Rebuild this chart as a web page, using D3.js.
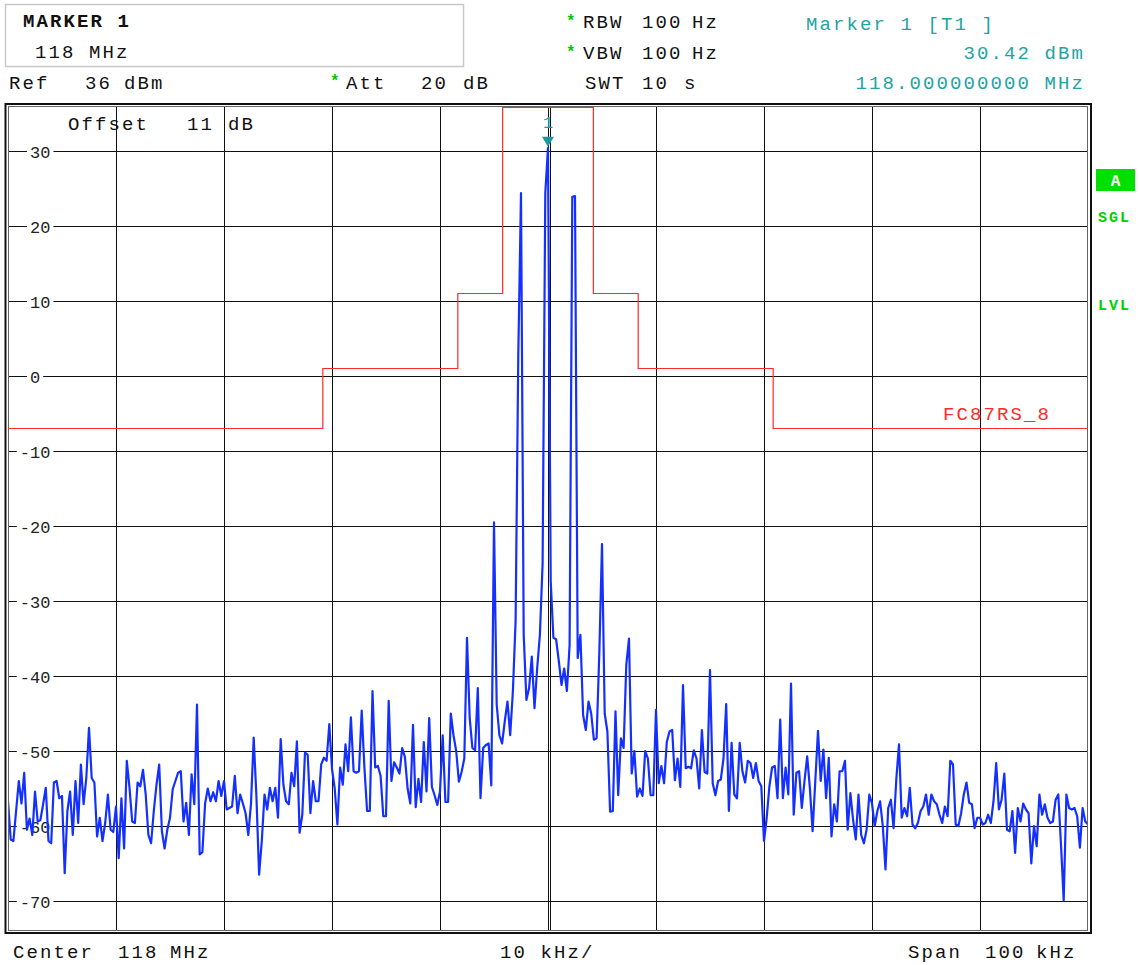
<!DOCTYPE html>
<html>
<head>
<meta charset="utf-8">
<script src="https://cdn.jsdelivr.net/npm/d3@7"></script>
<style>
html, body { margin: 0; padding: 0; background: #fff; }
svg text { font-family: 'Liberation Mono', 'Courier New', 'DejaVu Sans Mono', monospace; }
</style>
</head>
<body>
<script>
// spectrum trace, one value per 0.25 kHz from -50 kHz to +50 kHz (dBm)
var F_START = -50, F_STEP = 0.25;
var TRACE = [
  -56.7, -61.8, -62, -58, -54, -57, -52.9, -60.5, -59, -61.2, -55.4, -59.4, -59.2, -57.1, -54.9, -62, -62.3, -54.2, -54, -56.3,
  -56, -66.3, -58, -55.4, -61.2, -54, -59.6, -51.8, -57.1, -53.6, -46.9, -53.6, -54.2, -61.4, -58.9, -62, -59.6, -55.8, -60.5, -60.8,
  -57.4, -64.3, -56.3, -63, -51.3, -54.9, -59.4, -59.6, -54.2, -54.7, -52.5, -55.8, -61.2, -62.3, -58, -54.5, -51.8, -60.7, -63, -60.5,
  -58.9, -55.1, -54, -52.9, -52.7, -59.4, -56.9, -61.2, -53.1, -57.1, -43.8, -63.8, -63.5, -57, -55, -56.7, -55.5, -56.7, -54, -56,
  -54, -57.8, -57.6, -57.4, -53.3, -58.3, -55.8, -57, -58.3, -61.2, -57, -48.2, -56, -66.5, -62, -55.8, -57.8, -54.9, -56.7, -54.9,
  -58.9, -48.4, -54.5, -56.7, -57.1, -52.9, -54.7, -48.7, -60.9, -58.5, -50.2, -50.5, -58.3, -54, -56.7, -56.7, -51.8, -50.9, -51.3, -46.4,
  -52.4, -55, -59.8, -52.2, -54.5, -49.1, -52.7, -45.5, -52.7, -52.9, -52.7, -44.6, -52.2, -58, -58, -42, -52.2, -52, -53.3, -58.7,
  -58.7, -43.3, -54, -51.5, -52.2, -53, -49.6, -50.8, -55, -57, -46.5, -57.5, -53.7, -56.8, -48.8, -55.4, -45.6, -54.8, -55.9, -57.2,
  -55.4, -47.9, -56.8, -56.8, -45, -47.9, -50, -54.1, -52.8, -51, -34.9, -45.6, -49.6, -49.9, -41.6, -56.3, -49.6, -49.2, -49, -54.6,
  -19.5, -43.8, -47.9, -49, -46, -43.4, -47.9, -42, -32.7, 3, 24.4, -34.5, -43.2, -41.6, -37.4, -44.3, -38.9, -34.5, -25, 24.4,
  30.42, -27.3, -34.9, -35.1, -38, -41.2, -39, -42, -35.9, 23.9, 24, -37.6, -34.5, -45.2, -47.2, -43.4, -45, -48.5, -48.3, -37,
  -22.4, -45, -47.4, -58.1, -58, -44.7, -55.9, -48.3, -49.6, -38.5, -35, -53, -50, -56.1, -55, -56, -50, -51, -55.9, -55.9,
  -44.5, -54.3, -52, -54.3, -48.8, -47.4, -47.2, -53.9, -51, -54.8, -41.2, -52.3, -52.1, -52.3, -49.9, -51, -55, -47.2, -52.8, -53,
  -39.2, -54.3, -55.9, -54, -53.8, -51, -43.75, -58, -48.9, -55.8, -56.3, -48.9, -52.7, -54.2, -51.3, -51.6, -53.6, -51.6, -54, -54.7,
  -62, -58.9, -54.7, -52.2, -52, -56.3, -45.8, -56.3, -52.2, -55.8, -41, -58.5, -52.9, -52.7, -57.6, -54, -50.7, -55, -60.7, -54,
  -47.3, -54, -49.8, -56.3, -50.9, -61.4, -57.1, -59.4, -52.7, -52.7, -51.3, -60.5, -55.6, -59.2, -61.8, -55.8, -61.2, -62.3, -60.5, -55.8,
  -57, -60, -58, -56.7, -60, -65.8, -57.6, -56.5, -60.3, -53.8, -49.1, -58.9, -57.6, -58.7, -54.9, -59.8, -60.3, -59.6, -58, -57.4,
  -55.8, -58.5, -55.8, -56.7, -57.1, -58.5, -59.6, -57.4, -58.7, -51.3, -51.8, -59.8, -60, -58.3, -55.8, -54.2, -56.9, -57.1, -60.3, -58.9,
  -58.9, -59.8, -59.6, -58.5, -59.6, -56.7, -51.6, -57.8, -56.5, -53, -60.5, -60.7, -58, -63.6, -57.6, -59.4, -57, -57.8, -58.3, -65,
  -60, -62.7, -55.8, -58.5, -57.1, -58.9, -59.6, -59.4, -56.5, -55.8, -62.5, -69.9, -55.8, -57.6, -57.8, -57.6, -58.7, -62.9, -57.6, -59.4, -59.8
];

// limit line FC87RS_8: frequency edges (kHz) and the level between them (dBm)
var LIMIT_EDGES = [-50, -20.85, -8.35, -4.2, 4.2, 8.35, 20.85, 50];
var LIMIT_LEVELS = [-7, 1, 11, 36, 11, 1, -7];

var Y_TICKS = [30, 20, 10, 0, -10, -20, -30, -40, -50, -60, -70];
var X_GRID = [-40, -30, -20, -10, 0, 10, 20, 30, 40];

var REF_LEVEL = 36, BOTTOM_LEVEL = -74;
var MARKER_F = 0, MARKER_LEVEL = 30.42;

var width = 1139, height = 965;
var plot = {left: 8, right: 1088, top: 106, bottom: 931};

var x = d3.scaleLinear().domain([-50, 50]).range([plot.left, plot.right]);
var y = d3.scaleLinear().domain([BOTTOM_LEVEL, REF_LEVEL]).range([plot.bottom, plot.top]);

var svg = d3.select("body").append("svg")
    .attr("width", width)
    .attr("height", height);

var BIG = {size: 19, ls: 2.1};

function txt(px, py, s, o) {
    o = o || {};
    var t = svg.append("text")
        .attr("x", px).attr("y", py)
        .attr("font-size", o.size || BIG.size)
        .attr("letter-spacing", o.ls === undefined ? BIG.ls : o.ls)
        .attr("fill", o.fill || "#111")
        .attr("text-anchor", o.anchor || "start")
        .text(s);
    if (o.bold) t.attr("font-weight", "bold");
    return t;
}
function star(px, py) {
    txt(px, py, "*", {size: 16, ls: 0, fill: "#00c800", bold: true});
}

// ---- header
svg.append("rect")
    .attr("x", 5.5).attr("y", 4.5).attr("width", 458).attr("height", 62)
    .attr("fill", "none").attr("stroke", "#c8c8c8").attr("stroke-width", 1.5);
txt(23, 27, "MARKER 1", {bold: true});
txt(35, 58, "118 MHz");

txt(9, 89, "Ref"); txt(85, 89, "36"); txt(124, 89, "dBm");
star(330, 86); txt(346, 89, "Att"); txt(421, 89, "20"); txt(463, 89, "dB");

star(566, 26); txt(583, 28, "RBW"); txt(642, 28, "100"); txt(692, 28, "Hz");
star(566, 57); txt(583, 59, "VBW"); txt(642, 59, "100"); txt(692, 59, "Hz");
txt(585, 89, "SWT"); txt(642, 89, "10"); txt(684, 89, "s");

var teal = "#22a3a3";
txt(806, 30, "Marker 1 [T1 ]", {fill: teal});
txt(1085, 59, MARKER_LEVEL.toFixed(2) + " dBm", {fill: teal, anchor: "end"});
txt(1085, 89, "118.000000000 MHz", {fill: teal, anchor: "end"});

// ---- side labels
svg.append("rect").attr("x", 1096).attr("y", 169).attr("width", 39).attr("height", 22).attr("fill", "#00e000");
txt(1115.5, 186, "A", {fill: "#fff", bold: true, size: 16, ls: 0, anchor: "middle"});
txt(1098, 222, "SGL", {fill: "#00d000", bold: true, size: 15, ls: 2});
txt(1098, 310, "LVL", {fill: "#00d000", bold: true, size: 15, ls: 2});

// ---- grid
var gx = svg.append("g")
    .attr("transform", "translate(0," + plot.bottom + ")")
    .call(d3.axisBottom(x).tickValues(X_GRID).tickSize(-(plot.bottom - plot.top)).tickFormat(""));
gx.select(".domain").remove();
gx.selectAll("line").attr("stroke", "#111").attr("stroke-width", 1);

// centre line drawn double, as on the instrument
svg.append("line")
    .attr("x1", x(0) + 2.5).attr("x2", x(0) + 2.5)
    .attr("y1", plot.top).attr("y2", plot.bottom)
    .attr("stroke", "#111").attr("stroke-width", 1);

var gy = svg.append("g")
    .attr("transform", "translate(" + plot.left + ",0)")
    .call(d3.axisRight(y).tickValues(Y_TICKS).tickSize(plot.right - plot.left).tickFormat(function(d) { return d; }));
gy.select(".domain").remove();
gy.selectAll("line").attr("stroke", "#111").attr("stroke-width", 1);
gy.selectAll("text")
    .attr("x", function(d) { return d < 0 ? 22 - 10.2 : 22; })
    .attr("dy", "0.36em")
    .attr("text-anchor", "start")
    .attr("font-size", 17)
    .attr("fill", "#222")
    .attr("font-family", "'Liberation Mono', 'Courier New', monospace");
gy.selectAll(".tick").each(function() {
    var t = d3.select(this).select("text");
    var b = t.node().getBBox();
    d3.select(this).insert("rect", "text")
        .attr("x", b.x - 3).attr("y", b.y + 2)
        .attr("width", b.width + 6).attr("height", b.height - 4)
        .attr("fill", "#fff");
});

// ---- limit line
var limitPts = LIMIT_LEVELS.map(function(v, i) { return [LIMIT_EDGES[i], v]; });
limitPts.push([LIMIT_EDGES[LIMIT_EDGES.length - 1], LIMIT_LEVELS[LIMIT_LEVELS.length - 1]]);
svg.append("path")
    .datum(limitPts)
    .attr("fill", "none")
    .attr("stroke", "#ff2a2a")
    .attr("stroke-width", 1.2)
    .attr("d", d3.line()
        .x(function(d) { return x(d[0]); })
        .y(function(d) { return Math.max(y(d[1]), plot.top + 1.5); })
        .curve(d3.curveStepAfter));
txt(943, 420, "FC87RS_8", {fill: "#ff2a2a"});

txt(68, 130, "Offset"); txt(187, 130, "11"); txt(228, 130, "dB");

// ---- trace
svg.append("clipPath").attr("id", "clip")
    .append("rect")
    .attr("x", plot.left).attr("y", plot.top)
    .attr("width", plot.right - plot.left).attr("height", plot.bottom - plot.top);

var tracePts = TRACE.map(function(v, i) { return [F_START + i * F_STEP, v]; });
svg.append("path")
    .datum(tracePts)
    .attr("clip-path", "url(#clip)")
    .attr("fill", "none")
    .attr("stroke", "#1430ff")
    .attr("stroke-width", 2.2)
    .attr("stroke-linejoin", "round")
    .attr("d", d3.line()
        .x(function(d) { return x(d[0]); })
        .y(function(d) { return y(d[1]); }));

// ---- marker 1
var mx = x(MARKER_F), my = y(MARKER_LEVEL);
svg.append("path")
    .attr("d", "M" + (mx - 6) + "," + (my - 11) + "L" + (mx + 6) + "," + (my - 11) + "L" + mx + "," + (my - 1) + "Z")
    .attr("fill", "#1a9a9a");
txt(mx, my - 20, "1", {fill: "#1a9a9a", anchor: "middle", ls: 0, size: 17});

// ---- frame
svg.append("rect")
    .attr("x", 5.5).attr("y", 104).attr("width", 1085.5).attr("height", 829)
    .attr("fill", "none").attr("stroke", "#111").attr("stroke-width", 2);
svg.append("rect")
    .attr("x", plot.left + 0.5).attr("y", plot.top + 0.5)
    .attr("width", plot.right - plot.left - 1).attr("height", plot.bottom - plot.top - 1)
    .attr("fill", "none").attr("stroke", "#666").attr("stroke-width", 1);

// ---- footer
txt(13, 958, "Center"); txt(118, 958, "118"); txt(170, 958, "MHz");
txt(500, 958, "10 kHz/");
txt(908, 958, "Span"); txt(985, 958, "100"); txt(1036, 958, "kHz");
</script>
</body>
</html>
